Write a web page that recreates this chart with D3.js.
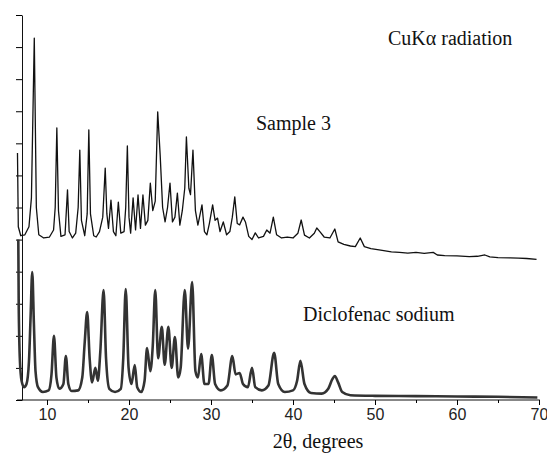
<!DOCTYPE html>
<html lang="en">
<head>
    <meta charset="UTF-8">
    <title>XRD patterns</title>
    <script src="https://d3js.org/d3.v7.min.js"></script>
    <style>
        body {margin: 0; background: #fff;}
        .tick text {font-family: "Liberation Sans", Arial, sans-serif; font-size: 16px; fill: #222;}
        .note {font-family: "Liberation Serif", "Times New Roman", serif; font-size: 20px; fill: #111;}
    </style>
</head>
<body>
<script>
    const width = 547;
    const height = 455;

    // 2theta (degrees), intensity (axis units)
    const sample3 = [
        [6.4, 7.7], [6.5, 5.4], [6.8, 5.12], [7.3, 5.15], [7.8, 5.4], [8.1, 6.3], [8.45, 11.28], [8.7, 6.0],
        [9.0, 5.15], [9.6, 5.05], [10.3, 5.08], [10.8, 5.3], [11.0, 6.0], [11.2, 8.48], [11.4, 5.9], [11.7, 5.1],
        [12.2, 5.15], [12.5, 6.55], [12.7, 5.25], [13.1, 5.05], [13.5, 5.2], [13.8, 6.0], [14.0, 7.79], [14.2, 5.6],
        [14.6, 5.12], [14.9, 5.8], [15.1, 8.42], [15.3, 5.8], [15.7, 5.12], [16.0, 5.08], [16.4, 5.25], [16.8, 5.7],
        [17.1, 7.23], [17.3, 5.8], [17.5, 5.35], [17.8, 6.23], [18.1, 5.25], [18.4, 5.12], [18.7, 6.17], [19.0, 5.2],
        [19.4, 5.25], [19.6, 6.0], [19.8, 7.92], [20.0, 5.7], [20.2, 5.2], [20.5, 6.3], [20.8, 5.3], [21.1, 6.39],
        [21.4, 5.35], [21.7, 6.39], [22.0, 5.45], [22.3, 5.6], [22.6, 6.76], [22.9, 5.9], [23.2, 6.2], [23.5, 8.98],
        [23.8, 7.64], [24.1, 6.0], [24.4, 5.55], [24.7, 6.0], [25.0, 6.76], [25.3, 5.55], [25.6, 5.7], [25.9, 6.45],
        [26.2, 5.45], [26.5, 5.9], [26.8, 6.6], [27.0, 8.2], [27.3, 6.6], [27.5, 6.4], [27.8, 7.79], [28.1, 5.9],
        [28.4, 5.45], [28.6, 5.7], [28.9, 6.08], [29.2, 5.25], [29.5, 5.15], [29.8, 5.5], [30.2, 6.08], [30.5, 5.6],
        [30.8, 5.67], [31.1, 5.25], [31.5, 5.55], [31.9, 5.15], [32.3, 5.25], [32.6, 5.7], [32.9, 6.33], [33.2, 5.5],
        [33.5, 5.46], [33.9, 5.7], [34.2, 5.55], [34.6, 5.1], [35.0, 5.0], [35.4, 5.21], [35.8, 5.05], [36.4, 5.1],
        [36.8, 5.3], [37.2, 5.2], [37.6, 5.7], [38.0, 5.15], [38.6, 5.05], [39.3, 5.08], [40.0, 5.05], [40.6, 5.2],
        [41.0, 5.61], [41.4, 5.14], [42.0, 5.05], [42.6, 5.2], [42.9, 5.36], [43.3, 5.24], [43.8, 5.08], [44.5, 5.05],
        [45.1, 5.33], [45.5, 4.93], [46.2, 4.85], [47.0, 4.8], [47.6, 4.78], [48.2, 5.05], [48.7, 4.78], [49.5, 4.72],
        [50.5, 4.68], [52.0, 4.62], [53.0, 4.6], [54.0, 4.58], [55.0, 4.6], [56.0, 4.57], [57.1, 4.6], [57.6, 4.52],
        [58.5, 4.5], [60.0, 4.49], [61.5, 4.47], [62.5, 4.48], [63.4, 4.52], [64.0, 4.46], [65.0, 4.44], [66.5, 4.43],
        [67.5, 4.42], [68.5, 4.41], [69.7, 4.38]
    ];

    const diclofenac = [
        [6.5, 5.0], [6.55, 3.0], [6.7, 1.2], [6.9, 0.6], [7.2, 0.4], [7.5, 0.5], [7.8, 1.2], [8.0, 2.6],
        [8.2, 3.99], [8.4, 2.4], [8.6, 0.9], [8.9, 0.4], [9.5, 0.25], [10.2, 0.3], [10.55, 0.8], [10.85, 2.0],
        [11.15, 0.7], [11.5, 0.35], [12.0, 0.5], [12.3, 1.37], [12.6, 0.5], [13.0, 0.28], [13.8, 0.3], [14.3, 0.7],
        [14.6, 1.8], [14.9, 2.74], [15.2, 1.3], [15.5, 0.55], [15.9, 1.0], [16.2, 0.6], [16.5, 1.5], [16.9, 3.43],
        [17.2, 1.3], [17.6, 0.35], [18.3, 0.25], [19.0, 0.35], [19.3, 1.3], [19.6, 3.46], [19.95, 1.0], [20.3, 0.5],
        [20.7, 1.09], [21.0, 0.4], [21.5, 0.25], [21.9, 0.6], [22.2, 1.62], [22.6, 0.9], [22.9, 1.7], [23.2, 3.43],
        [23.55, 1.3], [24.0, 2.28], [24.35, 1.1], [24.8, 2.28], [25.2, 1.0], [25.6, 1.96], [26.0, 0.7], [26.3, 1.0],
        [26.8, 3.43], [27.2, 1.6], [27.7, 3.68], [28.1, 0.9], [28.4, 0.7], [28.8, 1.43], [29.2, 0.5], [29.7, 0.5],
        [30.1, 1.4], [30.5, 0.5], [31.2, 0.3], [32.0, 0.45], [32.6, 1.37], [33.0, 0.8], [33.5, 0.84], [33.9, 0.5],
        [34.5, 0.4], [35.0, 1.0], [35.4, 0.4], [36.2, 0.3], [37.0, 0.45], [37.7, 1.47], [38.2, 0.5], [39.0, 0.25],
        [40.0, 0.3], [40.5, 0.6], [40.9, 1.22], [41.4, 0.5], [42.2, 0.22], [43.5, 0.2], [44.3, 0.35], [44.8, 0.65],
        [45.1, 0.75], [45.5, 0.55], [46.0, 0.25], [47.0, 0.15], [50.0, 0.13], [55.0, 0.12], [60.0, 0.11],
        [65.0, 0.1], [69.8, 0.08]
    ];

    const xMajor = [10, 20, 30, 40, 50, 60, 70];
    const xMinor = [15, 25, 35, 45, 55, 65];
    const labels = [
        {text: "CuKα radiation", x: 388, y: 45},
        {text: "Sample 3", x: 256, y: 130},
        {text: "Diclofenac sodium", x: 303, y: 321}
    ];

    const svg = d3.select("body").append("svg")
            .attr("width", width).attr("height", height);

    const x = d3.scaleLinear().domain([10, 70]).range([47, 539]);
    const y = d3.scaleLinear().domain([0, 12]).range([400, 15]);

    // axes
    svg.append("line")
            .attr("x1", x(6.35)).attr("x2", x(70.1))
            .attr("y1", y(0)).attr("y2", y(0))
            .style("stroke", "#111");

    svg.append("g")
            .attr("transform", `translate(0,${y(0)})`)
            .call(d3.axisBottom(x).tickValues(xMajor).tickSize(5).tickPadding(4))
            .call(g => g.select(".domain").remove());

    svg.append("g")
            .attr("transform", `translate(0,${y(0)})`)
            .call(d3.axisBottom(x).tickValues(xMinor).tickSize(3).tickFormat(""))
            .call(g => g.select(".domain").remove());

    svg.append("g")
            .attr("transform", "translate(22,0)")
            .call(d3.axisLeft(y).ticks(12).tickSize(6).tickSizeOuter(0).tickFormat(""))
            .call(g => g.select(".domain").style("stroke", "#111"));

    // traces
    svg.append("path")
            .datum(diclofenac)
            .attr("d", d3.line().x(d => x(d[0])).y(d => y(d[1])).curve(d3.curveMonotoneX))
            .style("fill", "none")
            .style("stroke", "#333")
            .style("stroke-width", 2.6)
            .style("stroke-linejoin", "round");

    svg.append("path")
            .datum(sample3)
            .attr("d", d3.line().x(d => x(d[0])).y(d => y(d[1])))
            .style("fill", "none")
            .style("stroke", "#111")
            .style("stroke-width", 1.3)
            .style("stroke-linejoin", "round");

    svg.selectAll("text.note")
            .data(labels)
            .enter()
            .append("text")
            .attr("class", "note")
            .attr("x", d => d.x)
            .attr("y", d => d.y)
            .text(d => d.text);

    svg.append("text")
            .attr("class", "note")
            .attr("x", 318)
            .attr("y", 448)
            .attr("text-anchor", "middle")
            .text("2θ, degrees");
</script>
</body>
</html>
